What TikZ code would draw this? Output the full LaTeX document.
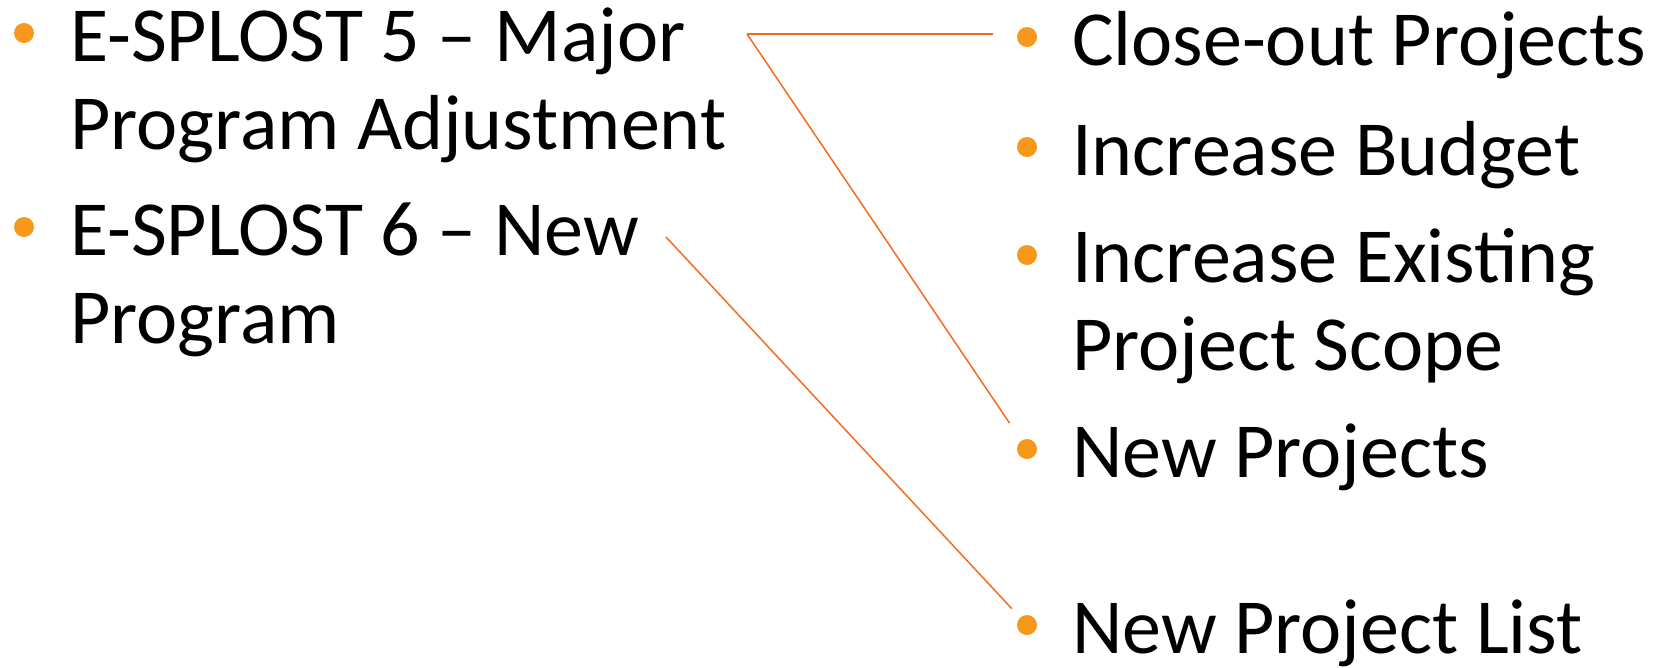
\documentclass[tikz,border=0pt]{standalone}
\usepackage{fontspec}
\setmainfont{Carlito}
\usetikzlibrary{positioning}
\definecolor{dotorange}{HTML}{F7981D}
\definecolor{lineorange}{HTML}{F36C21}
\tikzset{
  dot/.style={circle, fill=dotorange, inner sep=0pt, minimum size=20pt},
  item/.style={anchor=base west, inner sep=0pt, align=left,
    font=\fontsize{78}{88}\selectfont},
  link/.style={draw=lineorange, line width=1.5pt},
}

\begin{document}
\begin{tikzpicture}[x=1pt, y=-1pt]
    \useasboundingbox (0,0) rectangle (1664,667);
    % left column: the two programs (base = last line)
    \node[dot] (dotfive) at (24,33) {};
    \node[item] (esfive) at (70,149) {E-SPLOST 5 -- Major\\Program Adjustment};
    \node[dot] (dotsix) at (24,227) {};
    \node[item] (essix) at (70,343) {E-SPLOST 6 -- New\\Program};
    % right column: what each one covers
    \node[dot] (dotclose) at (1027,37) {};
    \node[item] (close) at (1072,65) {Close-out Projects};
    \node[dot] (dotbudget) at (1027,147) {};
    \node[item] (budget) at (1072,175) {Increase Budget};
    \node[dot] (dotscope) at (1027,255) {};
    \node[item] (scope) at (1072,370) {Increase Existing\\Project Scope};
    \node[dot] (dotnew) at (1027,449) {};
    \node[item] (newproj) at (1072,477) {New Projects};
    \node[dot] (dotlist) at (1027,625) {};
    \node[item] (list) at (1072,653) {New Project List};
    % connectors
    \coordinate (forkfive) at (747,34);
    \coordinate (forksix) at (666,237);
    \draw[link, shorten >=24pt] (forkfive) -- (forkfive -| dotclose.west);
    \draw[link, shorten >=21pt] (forkfive) -- (dotnew);
    \draw[link, shorten >=12pt] (forksix) -- (dotlist);
\end{tikzpicture}
\end{document}
